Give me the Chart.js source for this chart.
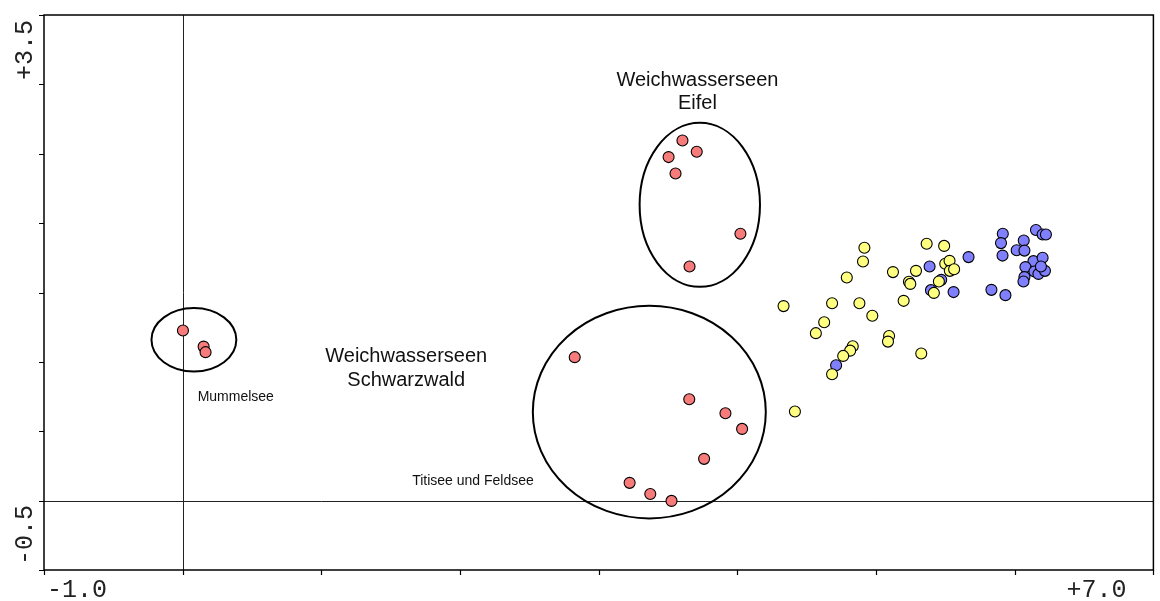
<!DOCTYPE html>
<html>
<head>
<meta charset="utf-8">
<script src="https://cdn.jsdelivr.net/npm/chart.js@4.4.1/dist/chart.umd.min.js"></script>
<style>
  html, body { margin: 0; padding: 0; background: #fff; }
  .wrap { width: 1160px; height: 601px; position: relative; }
</style>
</head>
<body>
<div class="wrap"><canvas id="ordination"></canvas></div>
<script>
  // site scores, axis 1 / axis 2
  const softWater = [
    [0.002, 1.226], [0.151, 1.110], [0.165, 1.070],
    [2.827, 1.034], [3.653, 0.731], [3.914, 0.630], [4.034, 0.517],
    [3.760, 0.301], [3.223, 0.128], [3.372, 0.048], [3.525, -0.002],
    [3.604, 2.596], [3.707, 2.514], [3.504, 2.476], [3.554, 2.358],
    [4.022, 1.923], [3.655, 1.687]
  ];
  const groupYellow = [
    [4.916, 1.822], [4.906, 1.723], [5.365, 1.851], [5.491, 1.836],
    [4.789, 1.608], [5.122, 1.647], [5.288, 1.656], [5.499, 1.707],
    [5.530, 1.728], [5.532, 1.656], [5.563, 1.668], [5.237, 1.577],
    [5.247, 1.562], [5.453, 1.579], [5.417, 1.497], [5.199, 1.440],
    [4.333, 1.402], [4.683, 1.423], [4.880, 1.423], [4.973, 1.332],
    [4.626, 1.286], [4.566, 1.207], [5.094, 1.187], [5.086, 1.146],
    [4.832, 1.113], [4.813, 1.081], [4.763, 1.043], [4.683, 0.911],
    [5.326, 1.060], [4.415, 0.642]
  ];
  const groupBlue = [
    [5.386, 1.687], [5.667, 1.755], [5.396, 1.517], [5.559, 1.503],
    [5.470, 1.591], [4.712, 0.976], [5.914, 1.923], [5.901, 1.856],
    [5.912, 1.766], [6.153, 1.950], [6.201, 1.918], [6.225, 1.918],
    [6.065, 1.875], [6.014, 1.805], [6.070, 1.802], [6.135, 1.726],
    [6.201, 1.750], [6.077, 1.683], [6.142, 1.651], [6.171, 1.634],
    [6.218, 1.656], [6.189, 1.687], [6.070, 1.611], [6.063, 1.579],
    [5.832, 1.519], [5.933, 1.481]
  ];

  const xTicks = [-1, 0, 1, 2, 3, 4, 5, 6, 7];
  const yTicks = [-0.5, 0, 0.5, 1, 1.5, 2, 2.5, 3, 3.5];
  const xTickLabels = ['-1.0', '+7.0'];
  const yTickLabels = ['-0.5', '+3.5'];

  // group outlines: centre and half-axes in axis units
  const groupRings = [
    { cx: 0.081, cy: 1.159, rx: 0.306, ry: 0.229 },
    { cx: 3.365, cy: 0.638, rx: 0.840, ry: 0.766 },
    { cx: 3.729, cy: 2.132, rx: 0.434, ry: 0.591 }
  ];
  const notes = [
    { text: 'Weichwasserseen', x: 3.712, y: 3.030, size: 20, align: 'center' },
    { text: 'Eifel', x: 3.712, y: 2.862, size: 20, align: 'center' },
    { text: 'Weichwasserseen', x: 1.612, y: 1.036, size: 20, align: 'center' },
    { text: 'Schwarzwald', x: 1.612, y: 0.863, size: 20, align: 'center' },
    { text: 'Mummelsee', x: 0.108, y: 0.748, size: 14, align: 'left' },
    { text: 'Titisee und Feldsee', x: 1.655, y: 0.142, size: 14, align: 'left' }
  ];

  const toXY = arr => arr.map(([x, y]) => ({ x, y }));
  const MONO = '"Liberation Mono", "Courier New", monospace';
  const SANS = '"Liberation Sans", Arial, sans-serif';

  const decor = {
    id: 'decor',
    beforeDatasetsDraw(chart) {
      const { ctx, chartArea: a, scales: { x, y } } = chart;
      ctx.save();
      ctx.strokeStyle = '#222';
      ctx.lineWidth = 1;
      const x0 = Math.round(x.getPixelForValue(0)) + 0.5;
      const y0 = Math.round(y.getPixelForValue(0)) + 0.5;
      ctx.beginPath();
      ctx.moveTo(x0, a.top); ctx.lineTo(x0, a.bottom);
      ctx.moveTo(a.left, y0); ctx.lineTo(a.right, y0);
      ctx.stroke();
      ctx.restore();
    },
    afterDatasetsDraw(chart) {
      const { ctx, scales: { x, y } } = chart;
      ctx.save();
      ctx.strokeStyle = '#000';
      ctx.lineWidth = 2;
      groupRings.forEach(r => {
        const px = x.getPixelForValue(r.cx), py = y.getPixelForValue(r.cy);
        const rx = x.getPixelForValue(r.cx + r.rx) - px;
        const ry = py - y.getPixelForValue(r.cy + r.ry);
        ctx.beginPath();
        ctx.ellipse(px, py, rx, ry, 0, 0, Math.PI * 2);
        ctx.stroke();
      });
      ctx.fillStyle = '#111';
      ctx.textBaseline = 'middle';
      notes.forEach(n => {
        ctx.font = n.size + 'px ' + SANS;
        ctx.textAlign = n.align;
        ctx.fillText(n.text, x.getPixelForValue(n.x), y.getPixelForValue(n.y));
      });
      ctx.restore();
    },
    afterDraw(chart) {
      const { ctx, chartArea: a, scales: { x, y } } = chart;
      ctx.save();
      ctx.strokeStyle = '#000';
      ctx.lineWidth = 1.5;
      ctx.strokeRect(a.left, a.top, a.right - a.left, a.bottom - a.top);
      ctx.lineWidth = 1.2;
      ctx.beginPath();
      xTicks.forEach(v => {
        const px = Math.round(x.getPixelForValue(v)) + 0.5;
        ctx.moveTo(px, a.bottom); ctx.lineTo(px, a.bottom + 5);
      });
      yTicks.forEach(v => {
        const py = Math.round(y.getPixelForValue(v)) + 0.5;
        ctx.moveTo(a.left - 5, py); ctx.lineTo(a.left, py);
      });
      ctx.stroke();

      ctx.fillStyle = '#222';
      ctx.font = '25px ' + MONO;
      ctx.textBaseline = 'alphabetic';
      ctx.textAlign = 'left';
      ctx.fillText(xTickLabels[0], x.getPixelForValue(xTicks[0]) + 3, a.bottom + 27);
      ctx.textAlign = 'right';
      ctx.fillText(xTickLabels[1], x.getPixelForValue(xTicks[xTicks.length - 1]) - 27, a.bottom + 27);

      const yl = [[yTickLabels[0], y.getPixelForValue(yTicks[0]) - 5],
                  [yTickLabels[1], y.getPixelForValue(yTicks[yTicks.length - 1]) + 65]];
      yl.forEach(([t, py]) => {
        ctx.save();
        ctx.translate(a.left - 12, py);
        ctx.rotate(-Math.PI / 2);
        ctx.textAlign = 'left';
        ctx.fillText(t, 0, 0);
        ctx.restore();
      });
      ctx.restore();
    }
  };

  const pointStyle = {
    pointRadius: 5.5,
    pointHoverRadius: 5.5,
    pointBorderWidth: 1.1,
    pointBorderColor: '#000'
  };

  new Chart(document.getElementById('ordination'), {
    type: 'scatter',
    data: {
      datasets: [
        { label: 'Weichwasserseen', data: toXY(softWater), pointBackgroundColor: '#f77b7b', ...pointStyle },
        { label: 'Gruppe 2', data: toXY(groupYellow), pointBackgroundColor: '#ffff80', ...pointStyle },
        { label: 'Gruppe 3', data: toXY(groupBlue), pointBackgroundColor: '#8080ff', ...pointStyle }
      ]
    },
    options: {
      responsive: true,
      maintainAspectRatio: false,
      animation: false,
      layout: { padding: { left: 44, right: 4, top: 15, bottom: 31 } },
      plugins: { legend: { display: false }, tooltip: { enabled: false } },
      scales: {
        x: { type: 'linear', min: -1, max: 7, display: false },
        y: { type: 'linear', min: -0.5, max: 3.5, display: false }
      }
    },
    plugins: [decor]
  });
</script>
</body>
</html>
